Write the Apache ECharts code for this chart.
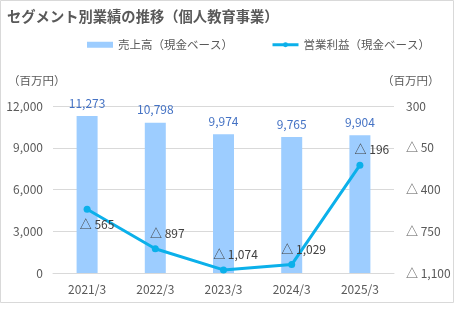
<!DOCTYPE html>
<html>
<head>
<meta charset="utf-8">
<script src="https://cdn.jsdelivr.net/npm/echarts@6/dist/echarts.min.js"></script>
<style>
  html, body { margin: 0; padding: 0; background: #fff; }
  #chart { width: 461px; height: 329px; }
</style>
</head>
<body>
<div id="chart"></div>
<script>
// 個人教育事業 セグメント業績（百万円）
const categories = ['2021/3', '2022/3', '2023/3', '2024/3', '2025/3'];
const salesValues = [11273, 10798, 9974, 9765, 9904];
const profitValues = [-565, -897, -1074, -1029, -196];
const leftTicks = { min: 0, max: 12000, interval: 3000 };
const rightTicks = { min: -1100, max: 300, interval: 350 };

const FONT = '"Noto Sans CJK JP", "Noto Sans", sans-serif';
const GRAY = '#595959';
const LINE_COLOR = '#0BB0EA';

function fmt(v) {
  return Math.abs(v).toLocaleString('en-US');
}
function triFmt(v) {
  return v < 0 ? '△ ' + fmt(v) : fmt(v);
}

const chart = echarts.init(document.getElementById('chart'), null, { renderer: 'canvas' });

chart.setOption({
  animation: false,
  textStyle: { fontFamily: FONT },
  grid: { left: 53, right: 67, top: 106, bottom: 56 },
  title: {
    text: 'セグメント別業績の推移（個人教育事業）',
    left: 2, top: 4,
    textStyle: { fontFamily: FONT, fontSize: 14.3, fontWeight: 'bold', color: GRAY }
  },
  legend: {
    left: 82, top: 34,
    itemGap: 38,
    itemWidth: 26, itemHeight: 6,
    textStyle: { fontFamily: FONT, fontSize: 11.5, color: GRAY },
    data: [
      { name: '売上高（現金ベース）', icon: 'rect' },
      { name: '営業利益（現金ベース）',
        lineStyle: { width: 3, color: LINE_COLOR },
        itemStyle: { color: LINE_COLOR } }
    ]
  },
  graphic: [
    { type: 'rect', shape: { x: 0.5, y: 0.5, width: 453, height: 302 },
      style: { fill: 'none', stroke: '#d9d9d9', lineWidth: 1 }, silent: true },
    { type: 'text', left: 8, top: 75,
      style: { text: '（百万円）', fontFamily: FONT, fontSize: 11.5, fill: GRAY } },
    { type: 'text', left: 382, top: 75,
      style: { text: '（百万円）', fontFamily: FONT, fontSize: 11.5, fill: GRAY } }
  ],
  xAxis: {
    type: 'category',
    data: categories,
    axisTick: { show: false },
    axisLine: { show: true, lineStyle: { color: '#d9d9d9' } },
    axisLabel: { color: GRAY, fontSize: 12, margin: 10, fontFamily: FONT }
  },
  yAxis: [
    {
      type: 'value',
      min: leftTicks.min, max: leftTicks.max, interval: leftTicks.interval,
      axisLine: { show: false }, axisTick: { show: false },
      splitLine: { lineStyle: { color: '#d9d9d9' } },
      axisLabel: { color: GRAY, fontSize: 12, margin: 10, fontFamily: FONT,
        formatter: v => fmt(v) }
    },
    {
      type: 'value',
      min: rightTicks.min, max: rightTicks.max, interval: rightTicks.interval,
      axisLine: { show: false }, axisTick: { show: false },
      splitLine: { show: false },
      axisLabel: { color: GRAY, fontSize: 12, margin: 12, fontFamily: FONT,
        formatter: v => triFmt(v) }
    }
  ],
  series: [
    {
      name: '売上高（現金ベース）',
      type: 'bar',
      data: salesValues,
      barWidth: 21,
      itemStyle: { color: '#9DCDFF' },
      label: {
        show: true, position: 'top', distance: 7,
        color: '#4472C4', fontSize: 12, fontFamily: FONT,
        formatter: p => fmt(p.value)
      }
    },
    {
      name: '営業利益（現金ベース）',
      type: 'line',
      yAxisIndex: 1,
      data: profitValues.map((v, i) => ({
        value: v,
        label: i === 0
          ? { position: 'bottom', offset: [10, 0] }
          : { position: 'top', offset: [12, 0] }
      })),
      symbol: 'circle',
      symbolSize: 7,
      lineStyle: { color: LINE_COLOR, width: 3 },
      itemStyle: { color: LINE_COLOR },
      label: {
        show: true, distance: 6,
        color: '#404040', fontSize: 12, fontFamily: FONT,
        formatter: p => triFmt(p.value)
      },
      z: 3
    }
  ]
});
</script>
</body>
</html>
